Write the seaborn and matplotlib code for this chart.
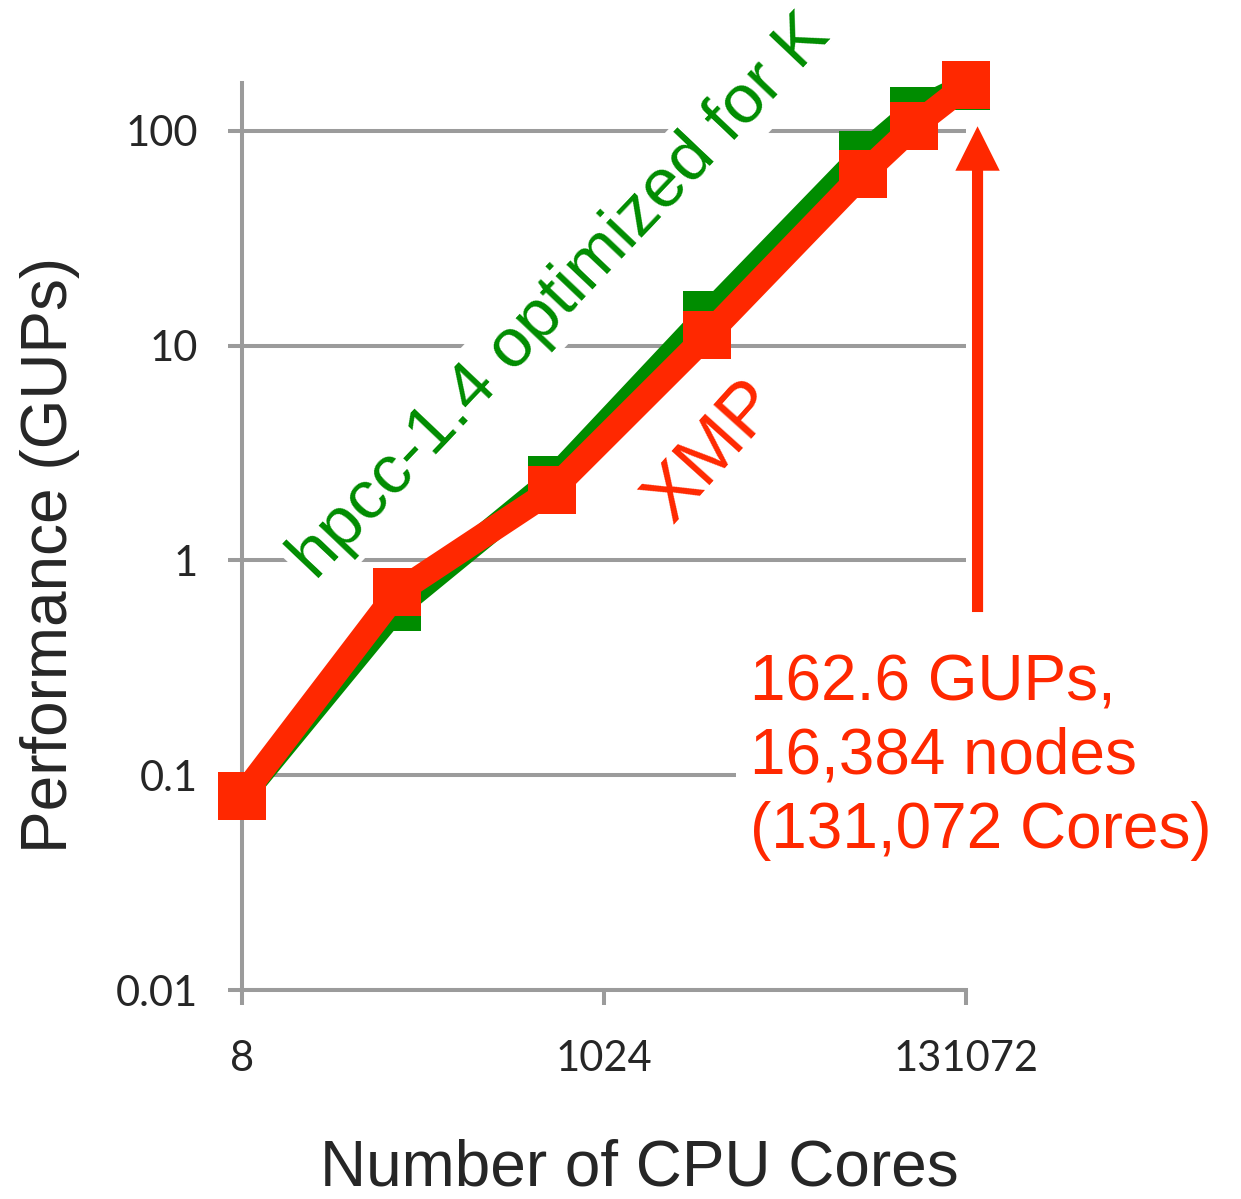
import numpy as np
import pandas as pd
import matplotlib
matplotlib.use("Agg")
import matplotlib.pyplot as plt
import seaborn as sns

# data
cores = [8, 64, 512, 4096, 32768, 65536, 131072]
hpcc_gups = [0.080, 0.607, 2.37, 13.9, 77.3, 124, 162]
xmp_gups = [0.080, 0.709, 2.13, 11.2, 62.7, 105.5, 162.6]

x_ticks = [8, 1024, 131072]
x_tick_labels = ["8", "1024", "131072"]
y_ticks = [0.01, 0.1, 1, 10, 100]
y_tick_labels = ["0.01", "0.1", "1", "10", "100"]

RED = "#FF2800"
GREEN = "#008C00"
GREY = "#9B9B9B"

df = pd.DataFrame({"cores": cores, "hpcc": hpcc_gups, "xmp": xmp_gups})

sns.set_style("white")
plt.rcParams["font.family"] = ["Liberation Sans", "DejaVu Sans"]

fig = plt.figure(figsize=(12.41, 11.99), dpi=100)
ax = fig.add_axes([242 / 1241, 1 - 990 / 1199, (966 - 242) / 1241, (990 - 83) / 1199])

# -----------------------
# lines
# -----------------------
sns.lineplot(data=df, x="cores", y="hpcc", ax=ax, color=GREEN, linewidth=18,
             marker="s", markersize=34.5, markeredgewidth=0, clip_on=False,
             zorder=3)
sns.lineplot(data=df, x="cores", y="xmp", ax=ax, color=RED, linewidth=18,
             marker="s", markersize=34.5, markeredgewidth=0, clip_on=False,
             zorder=4)

ax.set_xscale("log", base=2)
ax.set_yscale("log")
ax.set_xlim(8, 131072)
ax.set_ylim(0.01, 167)

ax.set_xticks(x_ticks)
ax.set_xticklabels(x_tick_labels, fontfamily="Lato", fontsize=30)
ax.set_yticks(y_ticks)
ax.set_yticklabels(y_tick_labels, fontfamily="Lato", fontsize=30)
ax.minorticks_off()

ax.tick_params(axis="x", direction="out", length=11, width=2.9, color=GREY,
               pad=25, bottom=True)
ax.tick_params(axis="y", direction="out", length=10, width=2.9, color=GREY,
               pad=22, left=True)

ax.yaxis.grid(True, color=GREY, linewidth=2.9, zorder=0)
ax.xaxis.grid(False)
ax.set_axisbelow(True)

for side in ["top", "right"]:
    ax.spines[side].set_visible(False)
for side in ["left", "bottom"]:
    ax.spines[side].set_color(GREY)
    ax.spines[side].set_linewidth(2.9)

ax.set_xlabel("")
ax.set_ylabel("")

fig.text(50 / 1241, 1 - 555 / 1199, "Performance (GUPs)", rotation=90,
         fontsize=46, ha="center", va="center")
fig.text(639 / 1241, 1 - 1168 / 1199, "Number of CPU Cores",
         fontsize=46, ha="center", va="center")

# -----------------------
# annotations
# -----------------------
fig.text(561 / 1241, 1 - 297 / 1199, "hpcc-1.4 optimized for K", color=GREEN,
         fontsize=50, rotation=46.5, rotation_mode="anchor",
         ha="center", va="center", zorder=5,
         bbox=dict(facecolor="white", edgecolor="none", pad=4))
fig.text(712 / 1241, 1 - 452 / 1199, "XMP", color=RED,
         fontsize=54, rotation=48, rotation_mode="anchor",
         ha="center", va="center", zorder=5)
fig.text(750 / 1241, 1 - 757 / 1199, "162.6 GUPs,\n16,384 nodes\n(131,072 Cores)",
         color=RED, fontsize=46, ha="left", va="center", zorder=5,
         linespacing=1.29,
         bbox=dict(facecolor="white", edgecolor="none", pad=10))

ax.annotate("", xy=(153000, 105), xytext=(153000, 0.575),
            xycoords="data", textcoords="data", annotation_clip=False,
            arrowprops=dict(arrowstyle="simple,head_length=32,head_width=32,tail_width=8",
                            mutation_scale=1, color=RED, lw=0,
                            shrinkA=0, shrinkB=0))

plt.savefig("out.png", dpi=100)
